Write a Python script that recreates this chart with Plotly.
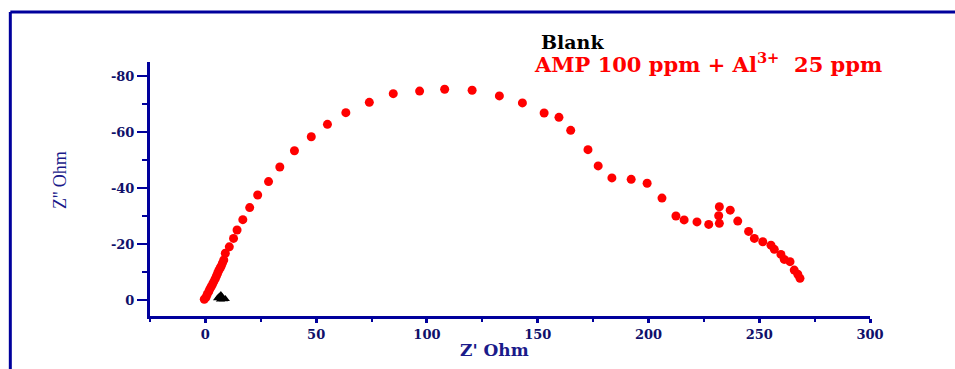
import plotly.graph_objects as go

# ---- data ----
amp_zre = [-0.5, 0.3, 0.8, 1.5, 2.0, 2.6, 3.2, 3.75, 4.4, 5.0, 5.5, 6.0, 6.6, 7.1, 7.7, 8.3, 9.0,
           10.8, 12.7, 14.3, 16.9, 20.0, 23.6, 28.5, 33.6, 40.2, 47.8, 55.1, 63.4, 74.0, 84.8,
           96.7, 108.0, 120.4, 132.7, 143.1, 152.9, 159.6, 164.9, 172.7, 177.3, 183.5, 192.2,
           199.4, 206.1, 212.4, 216.1, 221.9, 227.2, 232.0, 231.7, 232.0, 236.9, 240.3, 245.2,
           247.8, 251.6, 255.3, 256.8, 259.8, 261.3, 263.9, 265.8, 267.4, 268.4]
amp_zim = [-0.3, -1.0, -2.0, -3.0, -3.9, -4.75, -5.6, -6.5, -7.5, -8.6, -9.5, -10.5, -11.3, -12.1,
           -13.2, -14.3, -16.7, -19.0, -22.0, -25.0, -28.7, -33.0, -37.5, -42.3, -47.5, -53.3,
           -58.3, -62.75, -66.9, -70.6, -73.7, -74.6, -75.25, -74.9, -72.9, -70.4, -66.8, -65.25,
           -60.6, -53.7, -47.9, -43.6, -43.1, -41.7, -36.4, -30.0, -28.6, -27.9, -27.0, -27.4,
           -30.1, -33.3, -32.1, -28.2, -24.5, -22.0, -20.8, -19.6, -18.1, -16.3, -14.5, -13.7,
           -10.7, -9.2, -7.75]

blank_zre = [5.5, 6.3, 7.0, 7.6, 8.2, 6.8, 9.0]
blank_zim = [-0.6, -1.3, -1.8, -1.0, -0.3, -0.2, -0.4]

x_tickvals = [0, 50, 100, 150, 200, 250, 300]
x_ticktext = ["0", "50", "100", "150", "200", "250", "300"]
y_tickvals = [0, -20, -40, -60, -80]
y_ticktext = ["0", "-20", "-40", "-60", "-80"]

legend_blank = "Blank"
legend_amp = "AMP 100 ppm + Al<sup>3+</sup>  25 ppm"
x_title = "Z' Ohm"
y_title = "Z'' Ohm"

NAVY = "#00009C"

fig = go.Figure()
fig.add_trace(go.Scatter(x=amp_zre, y=amp_zim, mode="markers", name=legend_amp,
                         marker=dict(symbol="circle", size=9, color="#FF0000")))
fig.add_trace(go.Scatter(x=blank_zre, y=blank_zim, mode="markers", name=legend_blank,
                         marker=dict(symbol="triangle-up", size=8, color="#000000")))

tickfont = dict(family="DejaVu Serif", size=13, color="#10106A", weight="bold")

fig.update_layout(
    width=955, height=369,
    margin=dict(l=150, r=85, t=62, b=53),
    paper_bgcolor="white", plot_bgcolor="white",
    showlegend=False,
    xaxis=dict(range=[-25, 300], showgrid=False, zeroline=False,
               showline=True, linecolor=NAVY, linewidth=3,
               ticks="outside", ticklen=4, tickwidth=3, tickcolor=NAVY,
               tickvals=x_tickvals, ticktext=x_ticktext, tickfont=tickfont,
               minor=dict(ticks="outside", ticklen=3, tickwidth=2, tickcolor=NAVY, dtick=25,
                          tick0=0, showgrid=False)),
    yaxis=dict(range=[5.7, -85], showgrid=False, zeroline=False,
               showline=True, linecolor=NAVY, linewidth=3,
               ticks="outside", ticklen=10, tickwidth=2, tickcolor=NAVY,
               tickvals=y_tickvals, ticktext=y_ticktext, tickfont=tickfont,
               minor=dict(ticks="outside", ticklen=5, tickwidth=2, tickcolor=NAVY, dtick=10,
                          tick0=0, showgrid=False)),
)

# outer frame (left and top lines)
fig.add_shape(type="line", xref="paper", yref="paper", x0=-0.194, x1=-0.194, y0=-0.25, y1=1.197,
              line=dict(color=NAVY, width=3))
fig.add_shape(type="line", xref="paper", yref="paper", x0=-0.194, x1=1.2, y0=1.197, y1=1.197,
              line=dict(color=NAVY, width=3))

# legend texts
fig.add_annotation(x=0.540, y=1.079, xref="paper", yref="paper", xanchor="left", yanchor="middle",
                   text="<b>" + legend_blank + "</b>", showarrow=False,
                   font=dict(family="DejaVu Serif", size=19, color="#000000"))
fig.add_annotation(x=0.530, y=0.995, xref="paper", yref="paper", xanchor="left", yanchor="middle",
                   text="<b>" + legend_amp + "</b>", showarrow=False,
                   font=dict(family="DejaVu Serif", size=21, color="#FF0000"))

# axis titles
fig.add_annotation(x=0.479, y=-0.135, xref="paper", yref="paper", xanchor="center", yanchor="middle",
                   text="<b>" + x_title + "</b>", showarrow=False,
                   font=dict(family="DejaVu Serif", size=17, color="#1A1A8A"))
fig.add_annotation(x=-0.125, y=0.535, xref="paper", yref="paper", xanchor="center", yanchor="middle",
                   text=y_title, showarrow=False, textangle=-90,
                   font=dict(family="Liberation Serif", size=18, color="#1A1A8A"))

fig.write_html("out.html", config={"displayModeBar": False},
               post_script="document.body.style.margin='0';")
